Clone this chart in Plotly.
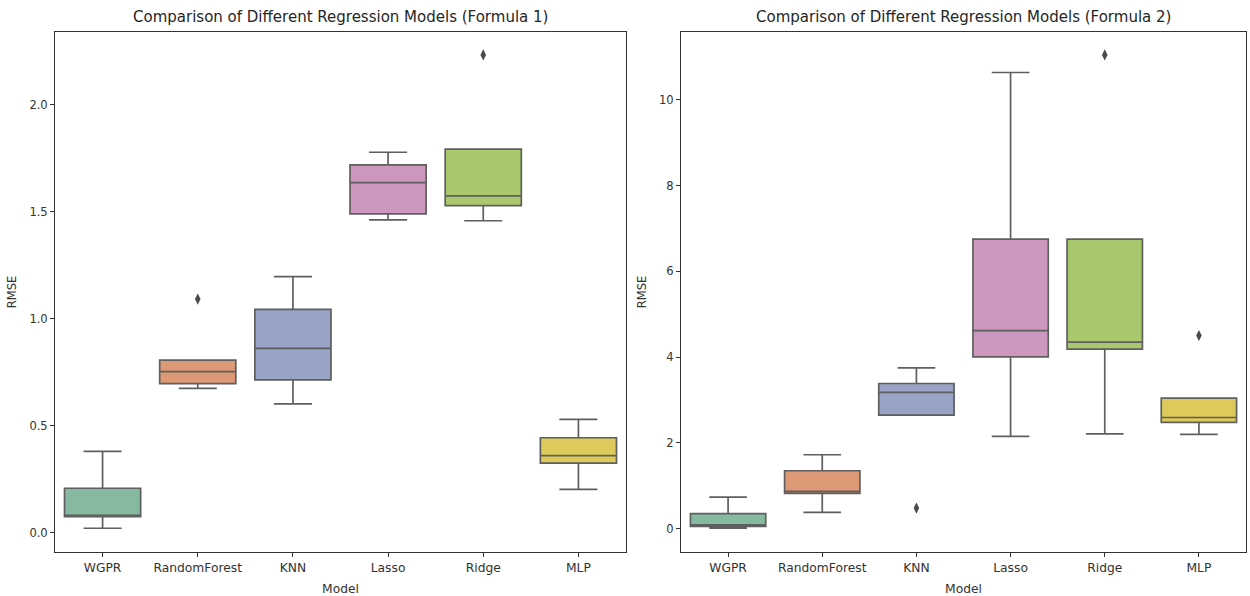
import plotly.graph_objects as go

models = ["WGPR", "RandomForest", "KNN", "Lasso", "Ridge", "MLP"]
colors = ["#85b9a0", "#dd9875", "#98a3c5", "#cd97be", "#a9c86e", "#ddca5b"]

# Formula 1 box statistics
f1_low = [0.022, 0.676, 0.603, 1.463, 1.459, 0.204]
f1_q1 = [0.076, 0.698, 0.715, 1.491, 1.530, 0.326]
f1_med = [0.082, 0.754, 0.863, 1.637, 1.575, 0.361]
f1_q3 = [0.209, 0.808, 1.045, 1.720, 1.794, 0.445]
f1_high = [0.381, 0.808, 1.198, 1.779, 1.794, 0.531]
f1_out_x = ["RandomForest", "Ridge"]
f1_out_y = [1.093, 2.234]

# Formula 2 box statistics
f2_low = [0.016, 0.38, 2.65, 2.152, 2.214, 2.199]
f2_q1 = [0.054, 0.823, 2.65, 4.009, 4.19, 2.478]
f2_med = [0.093, 0.87, 3.178, 4.62, 4.35, 2.594]
f2_q3 = [0.35, 1.352, 3.387, 6.753, 6.753, 3.046]
f2_high = [0.739, 1.725, 3.753, 10.64, 6.753, 3.046]
f2_out_x = ["KNN", "Ridge", "MLP"]
f2_out_y = [0.482, 11.05, 4.507]

LINE = "#5f5f5f"
fig = go.Figure()

def add_panel(low, q1, med, q3, high, ox, oy, xa, ya):
    for i, m in enumerate(models):
        fig.add_trace(go.Box(
            x=[m], q1=[q1[i]], median=[med[i]], q3=[q3[i]],
            lowerfence=[low[i]], upperfence=[high[i]],
            fillcolor=colors[i], line=dict(color=LINE, width=1.7),
            width=0.8, whiskerwidth=0.5, boxpoints=False,
            showlegend=False, xaxis=xa, yaxis=ya, hoverinfo="y"))
    fig.add_trace(go.Scatter(
        x=ox, y=oy, mode="markers",
        marker=dict(symbol="diamond-tall", size=8, color="#4a4a4a"),
        showlegend=False, xaxis=xa, yaxis=ya))

add_panel(f1_low, f1_q1, f1_med, f1_q3, f1_high, f1_out_x, f1_out_y, "x", "y")
add_panel(f2_low, f2_q1, f2_med, f2_q3, f2_high, f2_out_x, f2_out_y, "x2", "y2")

font = dict(family="DejaVu Sans", size=11.5, color="#333333")
xfont = dict(family="DejaVu Sans", size=12.3, color="#333333")
axcommon = dict(showline=True, mirror=True, linecolor="#333333", linewidth=1,
                ticks="outside", ticklen=4, tickcolor="#333333", showgrid=False,
                zeroline=False)
title_font = dict(family="DejaVu Sans", size=15, color="#262626")

fig.update_layout(
    width=1250, height=596,
    margin=dict(l=0, r=0, t=0, b=0),
    plot_bgcolor="white", paper_bgcolor="white",
    font=font,
    xaxis=dict(domain=[55/1250, 626/1250], anchor="y", type="category",
               categoryorder="array", categoryarray=models, range=[-0.5, 5.5],
               tickfont=xfont,
               title=dict(text="Model", font=xfont, standoff=10), **axcommon),
    yaxis=dict(domain=[1-552/596, 1-32/596], anchor="x", range=[-0.089, 2.341],
               tickvals=[0, 0.5, 1.0, 1.5, 2.0], ticktext=["0.0", "0.5", "1.0", "1.5", "2.0"],
               tickfont=font,
               title=dict(text="RMSE", font=font, standoff=10), **axcommon),
    xaxis2=dict(domain=[681/1250, 1246/1250], anchor="y2", type="category",
                categoryorder="array", categoryarray=models, range=[-0.5, 5.5],
                tickfont=xfont,
                title=dict(text="Model", font=xfont, standoff=10), **axcommon),
    yaxis2=dict(domain=[1-552/596, 1-32/596], anchor="x2", range=[-0.543, 11.585],
                tickvals=[0, 2, 4, 6, 8, 10], tickfont=font,
                title=dict(text="RMSE", font=font, standoff=10), **axcommon),
    annotations=[
        dict(text="Comparison of Different Regression Models (Formula 1)", x=(55+626)/2/1250,
             y=1-17/596, xref="paper", yref="paper", showarrow=False, xanchor="center",
             font=title_font, yanchor="middle"),
        dict(text="Comparison of Different Regression Models (Formula 2)", x=(681+1246)/2/1250,
             y=1-17/596, xref="paper", yref="paper", showarrow=False, xanchor="center",
             font=title_font, yanchor="middle"),
    ],
)

fig.write_html("out.html")
